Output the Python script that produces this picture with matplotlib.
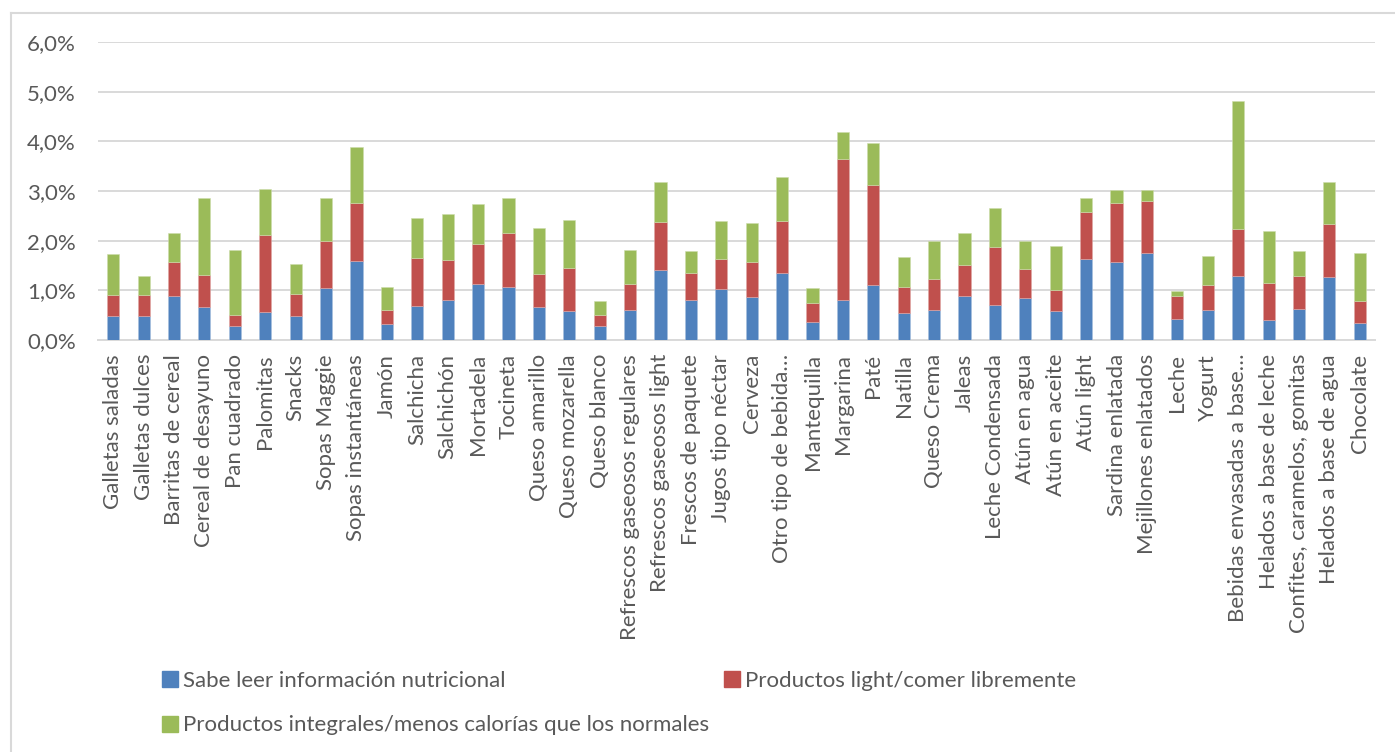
import matplotlib
matplotlib.use("Agg")
import matplotlib.pyplot as plt
from matplotlib.ticker import FuncFormatter
from matplotlib.lines import Line2D
import numpy as np

categories = [
    "Galletas saladas", "Galletas dulces", "Barritas de cereal", "Cereal de desayuno",
    "Pan cuadrado", "Palomitas", "Snacks", "Sopas Maggie", "Sopas instantáneas", "Jamón",
    "Salchicha", "Salchichón", "Mortadela", "Tocineta", "Queso amarillo", "Queso mozarella",
    "Queso blanco", "Refrescos gaseosos regulares", "Refrescos gaseosos light",
    "Frescos de paquete", "Jugos tipo néctar", "Cerveza", "Otro tipo de bebida…",
    "Mantequilla", "Margarina", "Paté", "Natilla", "Queso Crema", "Jaleas",
    "Leche Condensada", "Atún en agua", "Atún en aceite", "Atún light", "Sardina enlatada",
    "Mejillones enlatados", "Leche", "Yogurt", "Bebidas envasadas a base…",
    "Helados a base de leche", "Confites, caramelos, gomitas", "Helados a base de agua",
    "Chocolate",
]

# cumulative tops (%), converted to segment sizes below
top_blue = [0.49, 0.49, 0.89, 0.67, 0.28, 0.57, 0.49, 1.04, 1.59, 0.32,
            0.69, 0.81, 1.13, 1.06, 0.67, 0.59, 0.28, 0.61, 1.40, 0.81,
            1.03, 0.87, 1.34, 0.36, 0.81, 1.10, 0.54, 0.61, 0.89, 0.71,
            0.85, 0.59, 1.63, 1.58, 1.76, 0.43, 0.61, 1.28, 0.41, 0.63,
            1.27, 0.34]
top_red = [0.90, 0.90, 1.58, 1.30, 0.51, 2.12, 0.92, 2.00, 2.76, 0.61,
           1.65, 1.62, 1.94, 2.16, 1.33, 1.45, 0.51, 1.13, 2.37, 1.34,
           1.63, 1.57, 2.39, 0.74, 3.65, 3.13, 1.07, 1.23, 1.52, 1.87,
           1.43, 1.01, 2.58, 2.76, 2.80, 0.88, 1.11, 2.24, 1.15, 1.29,
           2.34, 0.78]
top_green = [1.73, 1.29, 2.15, 2.86, 1.82, 3.05, 1.54, 2.86, 3.88, 1.06,
             2.46, 2.54, 2.74, 2.85, 2.25, 2.41, 0.78, 1.81, 3.18, 1.80,
             2.40, 2.35, 3.28, 1.05, 4.19, 3.96, 1.67, 1.99, 2.16, 2.65,
             2.00, 1.89, 2.85, 3.03, 3.02, 0.99, 1.69, 4.81, 2.20, 1.79,
             3.18, 1.75]

series_names = [
    "Sabe leer información nutricional",
    "Productos light/comer libremente",
    "Productos integrales/menos calorías que los normales",
]
colors = ["#4F81BD", "#C0504D", "#9BBB59"]

plt.rcParams['font.family'] = ['Lato', 'DejaVu Sans']
text_color = "#595959"
fs = 16

blue = np.array(top_blue)
red = np.array(top_red) - blue
green = np.array(top_green) - np.array(top_red)

W, H = 1395, 752
fig = plt.figure(figsize=(W / 100, H / 100), dpi=100)
ax = fig.add_axes([98 / W, 1 - 340 / H, 1277 / W, 298 / H])

x = np.arange(len(categories))
bw = 0.4
ax.bar(x, blue, bw, color=colors[0], edgecolor="#A7C0DE", linewidth=0.4, zorder=3)
ax.bar(x, red, bw, bottom=blue, color=colors[1], edgecolor="#DFA7A6", linewidth=0.4, zorder=3)
ax.bar(x, green, bw, bottom=blue + red, color=colors[2], edgecolor="#CDDDAC", linewidth=0.4, zorder=3)

ax.set_ylim(0, 6)
ax.set_xlim(-0.5, len(categories) - 0.5)
ax.set_yticks(np.arange(0, 7, 1))
ax.yaxis.set_major_formatter(FuncFormatter(lambda v, p: f"{v:.1f}%".replace(".", ",")))
ax.grid(axis="y", color="#D9D9D9", linewidth=1.4, zorder=0)
for s in ["top", "right", "left"]:
    ax.spines[s].set_visible(False)
ax.spines["bottom"].set_color("#D9D9D9")
ax.spines["bottom"].set_linewidth(1.4)
ax.tick_params(axis="both", length=0, colors=text_color, labelsize=fs)
ax.tick_params(axis="y", pad=16)
ax.tick_params(axis="x", pad=10)
ax.set_xticks(x)
ax.set_xticklabels(categories, rotation=90, va="top", ha="center")

handles = [Line2D([], [], marker="s", linestyle="none", markersize=11,
                  markerfacecolor=c, markeredgecolor=c) for c in colors]
order = [0, 2, 1]
fig.legend([handles[i] for i in order], [series_names[i] for i in order],
           ncol=2, loc="upper left", bbox_to_anchor=(150 / W, 1 - 662 / H),
           frameon=False, fontsize=fs, labelcolor=text_color,
           handletextpad=0.1, columnspacing=0.5, labelspacing=1.1,
           handlelength=1.0, borderaxespad=0)

# outer chart border (clipped by the image on the right/bottom)
fig.add_artist(Line2D([11 / W, 11 / W], [0, 1 - 13 / H], transform=fig.transFigure,
                      color="#D9D9D9", linewidth=1.5))
fig.add_artist(Line2D([11 / W, 1], [1 - 13 / H, 1 - 13 / H], transform=fig.transFigure,
                      color="#D9D9D9", linewidth=1.5))

fig.savefig("out.png", dpi=100)
